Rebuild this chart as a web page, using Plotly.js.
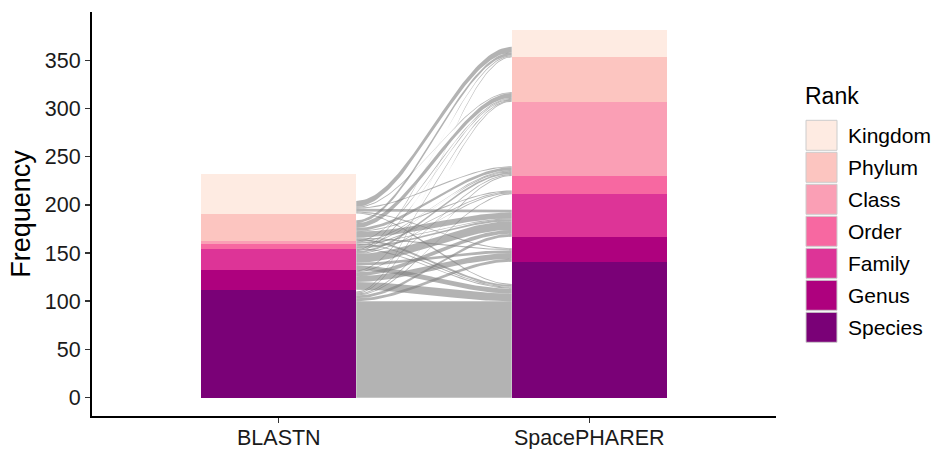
<!DOCTYPE html>
<html>
<head>
<meta charset="utf-8">
<script src="https://cdn.plot.ly/plotly-3.0.1.min.js"></script>
<style>html,body{margin:0;padding:0;background:#fff;}#chart{width:934px;height:449px;}</style>
</head>
<body>
<div id="chart"></div>
<script>
// ---- data ----
const tools = ["BLASTN", "SpacePHARER"];
const ranks = ["Species", "Genus", "Family", "Order", "Class", "Phylum", "Kingdom"]; // bottom to top
const blastnCounts = [112, 20, 22, 5, 4, 28, 41];
const spacepharerCounts = [141, 26, 44, 19, 77, 46, 28];
// shared items: rows = BLASTN rank, cols = SpacePHARER rank (same order as ranks)
const flowSpecies = [100, 3, 3, 1, 1, 1, 1];
const flowGenus   = [8, 6, 4, 0, 1, 1, 0];
const flowFamily  = [5, 3, 9, 1, 2, 1, 1];
const flowOrder   = [1, 0, 2, 1, 1, 0, 0];
const flowClass   = [1, 0, 1, 0, 1, 1, 0];
const flowPhylum  = [2, 1, 6, 1, 3, 5, 3];
const flowKingdom = [1, 1, 3, 0, 1, 1, 6];
const yTicks = [0, 50, 100, 150, 200, 250, 300, 350];

// ---- styles ----
const colors = ["#7a0177", "#ae017e", "#dd3497", "#f768a1", "#fa9fb5", "#fcc5c0", "#feebe2"];
const FONT = "Liberation Sans, Arial, Helvetica, sans-serif";
const barWidth = 0.5;

const flows = [flowSpecies, flowGenus, flowFamily, flowOrder, flowClass, flowPhylum, flowKingdom];
const n = ranks.length;
const cum = arr => { const o = []; let s = 0; for (const v of arr) { o.push(s); s += v; } return o; };
const leftBase = cum(blastnCounts);
const rightBase = cum(spacepharerCounts);

const traces = [];
// flows
const x0 = 1 + barWidth / 2, x1 = 2 - barWidth / 2;
const leftOff = leftBase.slice();
const rightOff = rightBase.slice();
const leftPos = {}, rightPos = {};
for (let i = 0; i < n; i++) for (let j = 0; j < n; j++) {
  leftPos[i + "," + j] = leftOff[i]; leftOff[i] += flows[i][j];
}
for (let j = 0; j < n; j++) for (let i = 0; i < n; i++) {
  rightPos[i + "," + j] = rightOff[j]; rightOff[j] += flows[i][j];
}
const N = 60;
for (let i = 0; i < n; i++) for (let j = 0; j < n; j++) {
  const c = flows[i][j];
  if (!c) continue;
  const yl = leftPos[i + "," + j], yr = rightPos[i + "," + j];
  const xs = [], ys = [];
  for (let k = 0; k <= N; k++) {
    const t = k / N, s = t * t * (3 - 2 * t);
    xs.push(x0 + (x1 - x0) * t); ys.push(yl + c + (yr - yl) * s);
  }
  for (let k = N; k >= 0; k--) {
    const t = k / N, s = t * t * (3 - 2 * t);
    xs.push(x0 + (x1 - x0) * t); ys.push(yl + (yr - yl) * s);
  }
  traces.push({type: "scatter", mode: "lines", x: xs, y: ys, fill: "toself",
    fillcolor: "rgba(128,128,128,0.6)", line: {width: 0}, hoverinfo: "skip", showlegend: false});
}
// stacked bars
for (let r = 0; r < n; r++) {
  traces.push({type: "bar", x: [1, 2], y: [blastnCounts[r], spacepharerCounts[r]], name: ranks[r],
    width: barWidth, marker: {color: colors[r], line: {width: 0}}, showlegend: false});
}

// custom legend and x tick labels (pixel layout -> paper coords)
const L = 92, T = 12, W = 684, H = 404;
const px = v => (v - L) / W, py = v => (T + H - v) / H;
const shapes = [], annotations = [];
const boxTop = 119.3, boxH = 32, boxX0 = 806, boxX1 = 837;
for (let k = 0; k < n; k++) {
  const r = n - 1 - k;
  const top = boxTop + k * boxH;
  shapes.push({type: "rect", xref: "paper", yref: "paper", x0: px(boxX0), x1: px(boxX1),
    y0: py(top + boxH - 1), y1: py(top + 1), fillcolor: colors[r], line: {color: "#cccccc", width: 1}});
  annotations.push({xref: "paper", yref: "paper", x: px(846), y: py(top + boxH / 2), xanchor: "left",
    yanchor: "middle", text: ranks[r], showarrow: false, font: {family: FONT, size: 21, color: "#000"}});
}
annotations.push({xref: "paper", yref: "paper", x: px(803), y: py(96), xanchor: "left", yanchor: "middle",
  text: "Rank", showarrow: false, font: {family: FONT, size: 23, color: "#000"}});
tools.forEach((name, i) => {
  annotations.push({xref: "x", yref: "paper", x: i + 1, y: py(438), xanchor: "center", yanchor: "middle",
    text: name, showarrow: false, font: {family: FONT, size: 21.5, color: "#1a1a1a"}});
});

const layout = {
  width: 934, height: 449,
  margin: {l: L, r: 934 - L - W, t: T, b: 449 - T - H},
  paper_bgcolor: "#fff", plot_bgcolor: "#fff",
  barmode: "stack", bargap: 0,
  showlegend: false,
  font: {family: FONT, color: "#000"},
  xaxis: {range: [0.4, 2.6], tickvals: [1, 2], showticklabels: false, showgrid: false, zeroline: false,
    showline: true, linecolor: "#000", linewidth: 2, ticks: "outside", ticklen: 5, tickwidth: 1.5,
    tickcolor: "#333", automargin: false},
  yaxis: {range: [-19.05, 400.05], tickvals: yTicks, showgrid: false, zeroline: false,
    showline: true, linecolor: "#000", linewidth: 2, ticks: "outside", ticklen: 5, tickwidth: 1.5,
    tickcolor: "#333", tickfont: {family: FONT, size: 21.5, color: "#1a1a1a"}, automargin: false,
    title: {text: "Frequency", font: {family: FONT, size: 27, color: "#000"}, standoff: 6}},
  shapes: shapes, annotations: annotations
};
Plotly.newPlot("chart", traces, layout, {staticPlot: true, displayModeBar: false});
</script>
</body>
</html>
